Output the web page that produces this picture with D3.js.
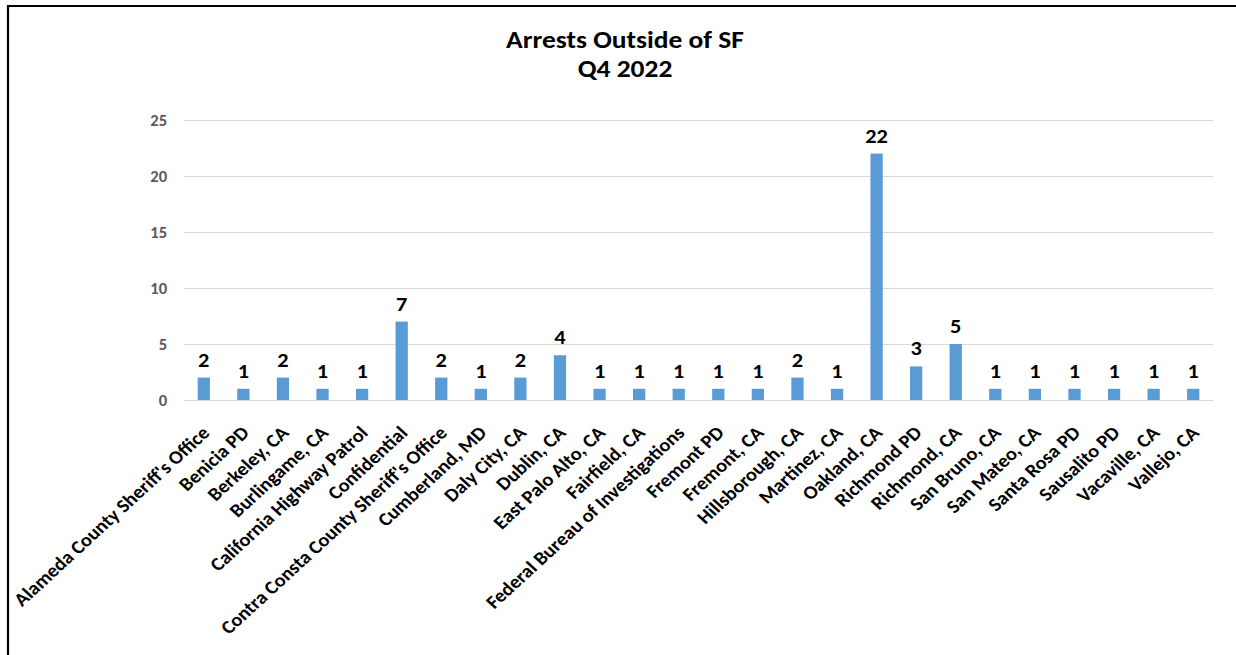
<!DOCTYPE html>
<html>
<head>
<meta charset="utf-8">
<script src="https://cdn.jsdelivr.net/npm/d3@7"></script>
<style>
  html, body { margin: 0; padding: 0; background: #fff; }
  svg { display: block; }
  text { font-family: Carlito, Calibri, Lato, "Open Sans", sans-serif; }
</style>
</head>
<body>
<svg id="chart" width="1236" height="655"></svg>
<script>
// Arrests made outside San Francisco, by agency / location, Q4 2022
const agencies = [
  "Alameda County Sheriff's Office", "Benicia PD", "Berkeley, CA", "Burlingame, CA",
  "California Highway Patrol", "Confidential", "Contra Consta County Sheriff's Office",
  "Cumberland, MD", "Daly City, CA", "Dublin, CA", "East Palo Alto, CA", "Fairfield, CA",
  "Federal Bureau of Investigations", "Fremont PD", "Fremont, CA", "Hillsborough, CA",
  "Martinez, CA", "Oakland, CA", "Richmond PD", "Richmond, CA", "San Bruno, CA",
  "San Mateo, CA", "Santa Rosa PD", "Sausalito PD", "Vacaville, CA", "Vallejo, CA"
];
const arrests = [2, 1, 2, 1, 1, 7, 2, 1, 2, 4, 1, 1, 1, 1, 1, 2, 1, 22, 3, 5, 1, 1, 1, 1, 1, 1];
const yTicks = [0, 5, 10, 15, 20, 25];
const titleLines = ["Arrests Outside of SF", "Q4 2022"];

// text in this chart is drawn slightly wide
const stretch = 1.09;

const svg = d3.select("#chart");

// frame around the chart area
svg.append("path")
  .attr("d", "M8,655 L8,6 L1236,6")
  .attr("fill", "none")
  .attr("stroke", "#000")
  .attr("stroke-width", 2.2);

const plot = { left: 184, right: 1213, top: 120, bottom: 400 };

const x = d3.scaleBand()
  .domain(agencies)
  .range([plot.left, plot.right])
  .paddingInner(0.69)
  .paddingOuter(0.345);

const y = d3.scaleLinear()
  .domain([0, 25])
  .range([plot.bottom, plot.top]);

// title
svg.append("g")
  .attr("transform", `translate(625,0) scale(1.1,1)`)
  .selectAll("text")
  .data(titleLines)
  .join("text")
  .attr("x", 0)
  .attr("y", (d, i) => 48 + i * 29.5)
  .attr("text-anchor", "middle")
  .style("font-size", "25px")
  .style("font-weight", "bold")
  .attr("fill", "#000")
  .text(d => d);

// horizontal gridlines + value labels on the left
const yAxis = d3.axisLeft(y)
  .tickValues(yTicks)
  .tickSize(-(plot.right - plot.left))
  .tickPadding(17);

const gy = svg.append("g")
  .attr("transform", `translate(${plot.left},0)`)
  .call(yAxis);
gy.select(".domain").remove();
gy.selectAll(".tick line").attr("stroke", "#d9d9d9").attr("stroke-width", 1.2);
gy.selectAll(".tick text")
  .attr("fill", "#595959")
  .style("font-size", "16.5px")
  .style("font-weight", "bold");

// bars
svg.append("g")
  .selectAll("rect")
  .data(agencies)
  .join("rect")
  .attr("x", d => x(d))
  .attr("width", x.bandwidth())
  .attr("y", (d, i) => y(arrests[i]))
  .attr("height", (d, i) => y(0) - y(arrests[i]))
  .attr("fill", "#5b9bd5");

// value labels above bars
svg.append("g")
  .selectAll("text")
  .data(agencies)
  .join("text")
  .attr("transform", (d, i) =>
    `translate(${x(d) + x.bandwidth() / 2},${y(arrests[i]) - 11}) scale(${stretch},1)`)
  .attr("text-anchor", "middle")
  .style("font-size", "20.5px")
  .style("font-weight", "bold")
  .attr("fill", "#000")
  .text((d, i) => arrests[i]);

// category axis with slanted labels
const xAxis = d3.axisBottom(x).tickSize(0).tickPadding(0);
const gx = svg.append("g")
  .attr("transform", `translate(0,${plot.bottom})`)
  .call(xAxis);
gx.select(".domain").attr("stroke", "#d9d9d9").attr("stroke-width", 1.2);
gx.selectAll(".tick text")
  .attr("fill", "#000")
  .style("font-size", "18.7px")
  .style("font-weight", "bold")
  .attr("text-anchor", "end")
  .attr("dy", null)
  .attr("y", 0)
  .attr("transform", `translate(7,34) scale(${stretch},1) rotate(-45)`);
</script>
</body>
</html>
